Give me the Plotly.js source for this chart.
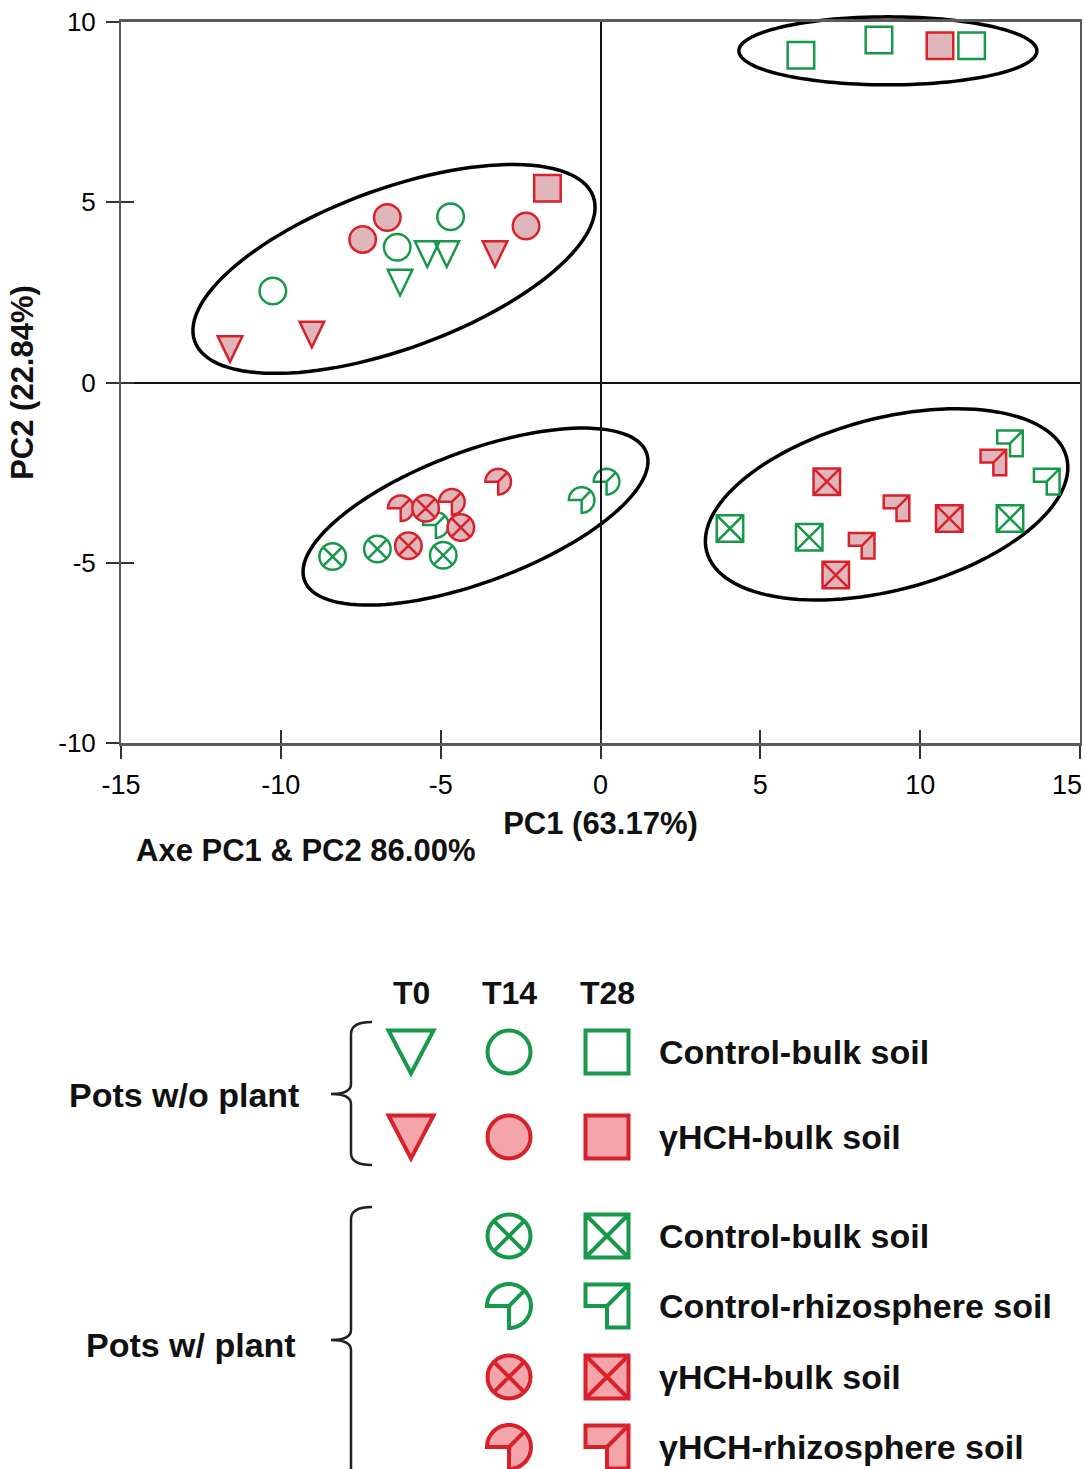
<!DOCTYPE html>
<html><head><meta charset="utf-8">
<script src="https://cdn.plot.ly/plotly-3.0.1.min.js"></script>
<style>html,body{margin:0;padding:0;background:#fff}</style>
</head><body>
<div id="chart" style="width:1085px;height:1469px"></div>
<script>
// ---------------- DATA ----------------
// Pots without plant
const woCtrlT0X  = [-6.27, -5.42, -4.81];   const woCtrlT0Y  = [2.77, 3.56, 3.56];   // Control-bulk soil, T0
const woHchT0X   = [-11.59, -9.03, -3.30];  const woHchT0Y   = [0.93, 1.33, 3.56];   // γHCH-bulk soil, T0
const woCtrlT14X = [-10.25, -6.36, -4.69];  const woCtrlT14Y = [2.54, 3.75, 4.60];
const woHchT14X  = [-7.44, -6.67, -2.33];   const woHchT14Y  = [3.97, 4.58, 4.34];
const woCtrlT28X = [6.27, 8.71, 11.61];     const woCtrlT28Y = [9.08, 9.50, 9.34];
const woHchT28X  = [-1.66, 10.62];          const woHchT28Y  = [5.39, 9.34];
// Pots with plant, T14
const wCtrlBulkT14X  = [-8.38, -6.98, -4.92]; const wCtrlBulkT14Y  = [-4.83, -4.62, -4.79];
const wCtrlRhizT14X  = [-5.15, -0.59, 0.19];  const wCtrlRhizT14Y  = [-3.95, -3.26, -2.75];
const wHchBulkT14X   = [-6.01, -5.47, -4.37]; const wHchBulkT14Y   = [-4.53, -3.49, -4.02];
const wHchRhizT14X   = [-6.25, -4.65, -3.20]; const wHchRhizT14Y   = [-3.49, -3.31, -2.75];
// Pots with plant, T28
const wCtrlBulkT28X  = [4.05, 6.53, 12.81];   const wCtrlBulkT28Y  = [-4.05, -4.29, -3.77];
const wCtrlRhizT28X  = [12.81, 13.96];        const wCtrlRhizT28Y  = [-1.69, -2.75];
const wHchBulkT28X   = [7.08, 7.36, 10.91];   const wHchBulkT28Y   = [-2.75, -5.34, -3.77];
const wHchRhizT28X   = [9.26, 8.17, 12.29];   const wHchRhizT28Y   = [-3.49, -4.53, -2.22];
// Cluster ellipse centres (data units)
const ellipseCX = [8.99, -6.46, -3.91, 8.95];
const ellipseCY = [9.20, 3.15, -3.72, -3.38];
// Axis ticks
const xTickVals = [-15, -10, -5, 0, 5, 10, 15];
const yTickVals = [-10, -5, 0, 5, 10];
const xTickText = xTickVals.map(String);
const yTickText = yTickVals.map(String);
// Legend texts
const timeLabels = ['T0', 'T14', 'T28'];
const rowLabels = ['Control-bulk soil', 'γHCH-bulk soil', 'Control-bulk soil',
                   'Control-rhizosphere soil', 'γHCH-bulk soil', 'γHCH-rhizosphere soil'];
const groupLabels = ['Pots w/o plant', 'Pots w/ plant'];

// ---------------- STYLE / LAYOUT CONSTANTS ----------------
const W = 1085, H = 1469;
const GREEN = '#17984a', RED = '#d8222b', RFILL = '#e0b6bb', LRFILL = '#f3a5aa', NOFILL = 'rgba(0,0,0,0)';
const FONT = 'Liberation Sans, Arial, sans-serif';
const NARROW = 'Liberation Sans Narrow, Arial Narrow, Liberation Sans, Arial, sans-serif';
const px0 = 121, px1 = 1080, py0 = 22, py1 = 743;   // plot frame in pixels
const xDom = [px0 / W, px1 / W];
const yDom = [1 - py1 / H, 1 - py0 / H];
// ellipse geometry (pixels): semi-axes and rotation
const ellA = [149, 212, 182.5, 186], ellB = [34, 80, 65.4, 86], ellT = [0, 20, 20.5, 14.7];
// legend grid (pixels)
const legColX = [411, 509, 607];
const legRowY = [1052, 1137, 1236, 1306, 1377, 1447];
const legHeadY = 993, legLabelX = 657;
const TICKFONT_X = {family: NARROW, size: 27, color: '#000'};

// ---------------- SYMBOL PATHS (pixel units, y up) ----------------
const f = n => (Math.round(n * 100) / 100).toString();
const poly = pts => 'M' + pts.map(p => f(p[0]) + ',' + f(p[1])).join(' L') + ' Z';
const open = pts => 'M' + pts.map(p => f(p[0]) + ',' + f(p[1])).join(' L');
function arc(r, a0, a1, n) {
  const o = [];
  for (let i = 0; i <= n; i++) { const a = (a0 + (a1 - a0) * i / n) * Math.PI / 180; o.push([r * Math.cos(a), r * Math.sin(a)]); }
  return o;
}
const triPath = (w, h) => poly([[-w, h], [w, h], [0, -h]]);
const piePath = r => poly([[0, 0]].concat(arc(r, 180, -90, 48))) + ' ' +
                     open([[0, 0], [r * Math.SQRT1_2 * 0.97, r * Math.SQRT1_2 * 0.97]]);
const cutSqPath = s => poly([[-s, s], [s, s], [s, -s], [0, -s], [0, 0], [-s, 0]]) + ' ' +
                      open([[0, 0], [s * 0.97, s * 0.97]]);
function ellPath(a, b, tDeg) {
  const t = tDeg * Math.PI / 180, pts = [];
  for (let k = 0; k < 120; k++) {
    const u = 2 * Math.PI * k / 120;
    pts.push([a * Math.cos(u) * Math.cos(t) - b * Math.sin(u) * Math.sin(t),
              a * Math.cos(u) * Math.sin(t) + b * Math.sin(u) * Math.cos(t)]);
  }
  return poly(pts);
}
function pixShape(xref, yref, x, y, path, color, width, fill, layer) {
  return {type: 'path', xref: xref, yref: yref, xsizemode: 'pixel', ysizemode: 'pixel',
          xanchor: x, yanchor: y, path: path, line: {color: color, width: width},
          fillcolor: fill, layer: layer || 'below'};
}

// ---------------- TRACES ----------------
const traces = [];
function mk(name, xs, ys, symbol, lineColor, fill, size, lw, xa, ya, opacity) {
  traces.push({type: 'scatter', mode: 'markers', name: name, x: xs, y: ys,
    xaxis: xa || 'x', yaxis: ya || 'y', hoverinfo: 'x+y+name', showlegend: false,
    marker: {symbol: symbol, size: size, color: fill, opacity: opacity == null ? 1 : opacity,
             line: {color: lineColor, width: lw}}});
}
const MS = 26.5, MLW = 2.5;
// invisible carriers for shape-drawn symbols (keep data in traces)
mk('Control-bulk soil T0 (w/o plant)', woCtrlT0X, woCtrlT0Y, 'triangle-down', GREEN, NOFILL, MS, 0, 'x', 'y', 0);
mk('γHCH-bulk soil T0 (w/o plant)', woHchT0X, woHchT0Y, 'triangle-down', RED, RFILL, MS, 0, 'x', 'y', 0);
mk('Control-rhizosphere soil T14', wCtrlRhizT14X, wCtrlRhizT14Y, 'circle', GREEN, NOFILL, MS, 0, 'x', 'y', 0);
mk('γHCH-rhizosphere soil T14', wHchRhizT14X, wHchRhizT14Y, 'circle', RED, RFILL, MS, 0, 'x', 'y', 0);
mk('Control-rhizosphere soil T28', wCtrlRhizT28X, wCtrlRhizT28Y, 'square', GREEN, NOFILL, MS, 0, 'x', 'y', 0);
mk('γHCH-rhizosphere soil T28', wHchRhizT28X, wHchRhizT28Y, 'square', RED, RFILL, MS, 0, 'x', 'y', 0);
// visible markers: green first, red on top
mk('Control-bulk soil T14 (w/o plant)', woCtrlT14X, woCtrlT14Y, 'circle', GREEN, NOFILL, MS, MLW);
mk('Control-bulk soil T28 (w/o plant)', woCtrlT28X, woCtrlT28Y, 'square', GREEN, NOFILL, MS, MLW);
mk('Control-bulk soil T14 (w/ plant)', wCtrlBulkT14X, wCtrlBulkT14Y, 'circle-x', GREEN, NOFILL, MS, MLW);
mk('Control-bulk soil T28 (w/ plant)', wCtrlBulkT28X, wCtrlBulkT28Y, 'square-x', GREEN, NOFILL, MS, MLW);
mk('γHCH-bulk soil T14 (w/o plant)', woHchT14X, woHchT14Y, 'circle', RED, RFILL, MS, MLW);
mk('γHCH-bulk soil T28 (w/o plant)', woHchT28X, woHchT28Y, 'square', RED, RFILL, MS, MLW);
mk('γHCH-bulk soil T14 (w/ plant)', wHchBulkT14X, wHchBulkT14Y, 'circle-x', RED, RFILL, MS, MLW);
mk('γHCH-bulk soil T28 (w/ plant)', wHchBulkT28X, wHchBulkT28Y, 'square-x', RED, RFILL, MS, MLW);
// carriers for overlay tick axes
traces.push({type: 'scatter', x: [], y: [], xaxis: 'x3', yaxis: 'y', showlegend: false});
traces.push({type: 'scatter', x: [], y: [], xaxis: 'x', yaxis: 'y3', showlegend: false});

// ---------------- SHAPES ----------------
const shapes = [];
// cluster ellipses (paper anchored so they are not clipped by the frame)
ellipseCX.forEach((cx, i) => {
  const ax = xDom[0] + (cx + 15) / 30 * (xDom[1] - xDom[0]);
  const ay = yDom[0] + (ellipseCY[i] + 10) / 20 * (yDom[1] - yDom[0]);
  shapes.push(pixShape('paper', 'paper', ax, ay, ellPath(ellA[i], ellB[i], ellT[i]), '#000', 3.5, NOFILL));
});
const triP = triPath(12.3, 12.8), pieP = piePath(12.8), cutP = cutSqPath(12.8);
woCtrlT0X.forEach((x, i) => shapes.push(pixShape('x', 'y', x, woCtrlT0Y[i], triP, GREEN, MLW, NOFILL)));
woHchT0X.forEach((x, i) => shapes.push(pixShape('x', 'y', x, woHchT0Y[i], triP, RED, MLW, RFILL)));
wCtrlRhizT14X.forEach((x, i) => shapes.push(pixShape('x', 'y', x, wCtrlRhizT14Y[i], pieP, GREEN, MLW, NOFILL)));
wHchRhizT14X.forEach((x, i) => shapes.push(pixShape('x', 'y', x, wHchRhizT14Y[i], pieP, RED, MLW, RFILL)));
wCtrlRhizT28X.forEach((x, i) => shapes.push(pixShape('x', 'y', x, wCtrlRhizT28Y[i], cutP, GREEN, MLW, NOFILL)));
wHchRhizT28X.forEach((x, i) => shapes.push(pixShape('x', 'y', x, wHchRhizT28Y[i], cutP, RED, MLW, RFILL)));

// ---------------- LEGEND (custom key) ----------------
const LS = 43, LLW = 4;
const lTri = triPath(22.5, 21.5), lPie = piePath(22), lCut = cutSqPath(21.5);
function legMarker(row, col, symbol, color, fill) {
  traces.push({type: 'scatter', mode: 'markers', x: [legColX[col]], y: [legRowY[row]], xaxis: 'x2', yaxis: 'y2',
    hoverinfo: 'skip', showlegend: false,
    marker: {symbol: symbol, size: LS, color: fill, line: {color: color, width: LLW}}});
}
function legShape(row, col, path, color, fill) {
  shapes.push(pixShape('x2', 'y2', legColX[col], legRowY[row], path, color, LLW, fill, 'above'));
}
legShape(0, 0, lTri, GREEN, NOFILL);   legMarker(0, 1, 'circle', GREEN, NOFILL);   legMarker(0, 2, 'square', GREEN, NOFILL);
legShape(1, 0, lTri, RED, LRFILL);     legMarker(1, 1, 'circle', RED, LRFILL);     legMarker(1, 2, 'square', RED, LRFILL);
legMarker(2, 1, 'circle-x', GREEN, NOFILL); legMarker(2, 2, 'square-x', GREEN, NOFILL);
legShape(3, 1, lPie, GREEN, NOFILL);   legShape(3, 2, lCut, GREEN, NOFILL);
legMarker(4, 1, 'circle-x', RED, LRFILL);   legMarker(4, 2, 'square-x', RED, LRFILL);
legShape(5, 1, lPie, RED, LRFILL);     legShape(5, 2, lCut, RED, LRFILL);
// braces
shapes.push({type: 'path', xref: 'x2', yref: 'y2', layer: 'above', line: {color: '#222', width: 2.5},
  path: 'M372,1022 Q351,1022 351,1034 L351,1084 Q351,1094 331,1094 Q351,1094 351,1104 L351,1153 Q351,1165 372,1165'});
shapes.push({type: 'path', xref: 'x2', yref: 'y2', layer: 'above', line: {color: '#222', width: 2.5},
  path: 'M372,1207 Q351,1207 351,1219 L351,1330 Q351,1340 331,1340 Q351,1340 351,1350 L351,1490'});

// ---------------- ANNOTATIONS ----------------
const TXT = '#111';
const annotations = [];
// last x tick label sits at the paper edge: draw it right-aligned so it is not cut off
const lastXTick = xTickText[xTickText.length - 1];
annotations.push({xref: 'paper', yref: 'paper', x: 1084 / W, y: 1 - 785 / H, xanchor: 'right', yanchor: 'middle',
  showarrow: false, text: lastXTick, font: TICKFONT_X});
annotations.push({xref: 'paper', yref: 'paper', x: 305 / W, y: 1 - 850 / H, xanchor: 'center', yanchor: 'middle',
  showarrow: false, text: 'Axe PC1 & PC2 86.00%', font: {family: NARROW, size: 31, weight: 700, color: TXT}});
timeLabels.forEach((t, i) => annotations.push({xref: 'x2', yref: 'y2', x: legColX[i], y: legHeadY,
  xanchor: 'center', yanchor: 'middle', showarrow: false, text: t, font: {family: FONT, size: 32, weight: 700, color: TXT}}));
rowLabels.forEach((t, i) => annotations.push({xref: 'x2', yref: 'y2', x: legLabelX, y: legRowY[i],
  xanchor: 'left', yanchor: 'middle', showarrow: false, text: t, font: {family: FONT, size: 34, weight: 700, color: TXT}}));
annotations.push({xref: 'x2', yref: 'y2', x: 301, y: 1095, xanchor: 'right', yanchor: 'middle', showarrow: false,
  text: groupLabels[0], font: {family: FONT, size: 34, weight: 700, color: TXT}});
annotations.push({xref: 'x2', yref: 'y2', x: 298, y: 1345, xanchor: 'right', yanchor: 'middle', showarrow: false,
  text: groupLabels[1], font: {family: FONT, size: 34, weight: 700, color: TXT}});

// ---------------- LAYOUT ----------------
const axBase = {showgrid: false, fixedrange: true, automargin: false};
const layout = {
  width: W, height: H, margin: {l: 0, r: 0, t: 0, b: 0},
  paper_bgcolor: '#fff', plot_bgcolor: 'rgba(0,0,0,0)', showlegend: false, hovermode: 'closest',
  xaxis: Object.assign({}, axBase, {domain: xDom, range: [-15, 15], anchor: 'y',
    tickmode: 'array', tickvals: xTickVals,
    ticktext: xTickText.map((t, i) => i === xTickText.length - 1 ? '' : t),
    ticks: 'outside', ticklen: 13, tickwidth: 1.5, tickcolor: '#333', ticklabelstandoff: 3,
    tickfont: TICKFONT_X,
    showline: true, linecolor: '#5a5a5a', linewidth: 2.5, mirror: true,
    zeroline: true, zerolinecolor: '#111', zerolinewidth: 1.5,
    title: {text: 'PC1 (63.17%)', standoff: 14, font: {family: NARROW, size: 31, weight: 700, color: TXT}}}),
  yaxis: Object.assign({}, axBase, {domain: yDom, range: [-10, 10], anchor: 'x',
    tickmode: 'array', tickvals: yTickVals, ticktext: yTickText, ticklabeloverflow: 'allow',
    ticks: 'outside', ticklen: 13, tickwidth: 1.5, tickcolor: '#333', ticklabelstandoff: 5,
    tickfont: {family: FONT, size: 26, color: '#000'},
    showline: true, linecolor: '#5a5a5a', linewidth: 2, mirror: true,
    zeroline: true, zerolinecolor: '#111', zerolinewidth: 1.5,
    title: {text: 'PC2 (22.84%)', standoff: 15, font: {family: FONT, size: 31, weight: 700, color: TXT}}}),
  xaxis3: Object.assign({}, axBase, {overlaying: 'x', anchor: 'y', side: 'bottom', range: [-15, 15],
    tickmode: 'array', tickvals: xTickVals, ticks: 'inside', ticklen: 13, tickwidth: 1.5, tickcolor: '#333',
    showticklabels: false, showline: false, zeroline: false}),
  yaxis3: Object.assign({}, axBase, {overlaying: 'y', anchor: 'x', side: 'left', range: [-10, 10],
    tickmode: 'array', tickvals: yTickVals, ticks: 'inside', ticklen: 13, tickwidth: 1.5, tickcolor: '#333',
    showticklabels: false, showline: false, zeroline: false}),
  xaxis2: Object.assign({}, axBase, {domain: [0, 1], range: [0, W], anchor: 'y2', visible: false}),
  yaxis2: Object.assign({}, axBase, {domain: [0, 0.4], range: [H, H - 0.4 * H], anchor: 'x2', visible: false}),
  shapes: shapes, annotations: annotations
};
Plotly.newPlot('chart', traces, layout, {displayModeBar: false, staticPlot: false, responsive: false});
</script>
</body></html>
